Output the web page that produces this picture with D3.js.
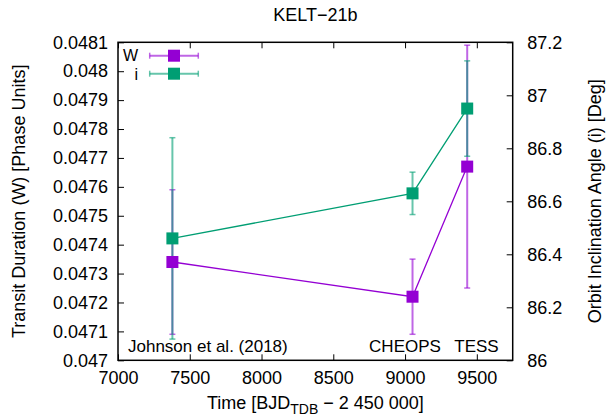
<!DOCTYPE html>
<html><head><meta charset="utf-8">
<script src="https://cdn.jsdelivr.net/npm/d3@7"></script>
<style>body{margin:0;background:#fff}svg{display:block;font-family:"Liberation Sans",Arial,sans-serif}</style>
</head><body>
<svg id="c" width="608" height="416"></svg>
<script>
// ---- data ----
const labels = ["Johnson et al. (2018)", "CHEOPS", "TESS"];
const times = [7379, 9052, 9433];
const wValues = [0.04734, 0.04722, 0.04767];
const wErrors = [0.00025, 0.00013, 0.00042];
const iValues = [86.46, 86.63, 86.95];
const iErrors = [0.38, 0.08, 0.18];
const xTicks = [7000, 7500, 8000, 8500, 9000, 9500];
const wTicks = [0.047, 0.0471, 0.0472, 0.0473, 0.0474, 0.0475, 0.0476, 0.0477, 0.0478, 0.0479, 0.048, 0.0481];
const wTickLabels = ["0.047","0.0471","0.0472","0.0473","0.0474","0.0475","0.0476","0.0477","0.0478","0.0479","0.048","0.0481"];
const iTicks = [86, 86.2, 86.4, 86.6, 86.8, 87, 87.2];
const iTickLabels = ["86","86.2","86.4","86.6","86.8","87","87.2"];
const legendNames = ["W", "i"];

const L = 118, R = 512.7, T = 42.3, B = 360.3;
const FS = 18;
const purple = "#9400d3", green = "#009e73";
const svg = d3.select("#c");

const x = d3.scaleLinear().domain([7000, 9750]).range([L, R]);
const yW = d3.scaleLinear().domain([0.047, 0.0481]).range([B, T]);
const yI = d3.scaleLinear().domain([86, 87.2]).range([B, T]);

// axes with inward ticks
const tk = 6;
const gx = svg.append("g").attr("transform", `translate(0,${B})`)
  .call(d3.axisBottom(x).tickValues(xTicks).tickSizeInner(-tk).tickSizeOuter(0).tickPadding(11).tickFormat(d3.format("d")));
const gxt = svg.append("g").attr("transform", `translate(0,${T})`)
  .call(d3.axisTop(x).tickValues(xTicks).tickSizeInner(-tk).tickSizeOuter(0).tickFormat(""));
const gl = svg.append("g").attr("transform", `translate(${L},0)`)
  .call(d3.axisLeft(yW).tickValues(wTicks).tickSizeInner(-tk).tickSizeOuter(0).tickPadding(10).tickFormat((d,i)=>wTickLabels[i]));
const gr = svg.append("g").attr("transform", `translate(${R},0)`)
  .call(d3.axisRight(yI).tickValues(iTicks).tickSizeInner(-tk).tickSizeOuter(0).tickPadding(14.5).tickFormat((d,i)=>iTickLabels[i]));
[gx,gxt,gl,gr].forEach(g=>{
  g.select(".domain").remove();
  g.selectAll("line").attr("stroke","#000").attr("stroke-width",1);
  g.selectAll("text").attr("font-size",FS).attr("fill","#000").attr("font-family",'"Liberation Sans",Arial,sans-serif');
});

// frame
svg.append("rect").attr("x",L).attr("y",T).attr("width",R-L).attr("height",B-T)
  .attr("fill","none").attr("stroke","#000").attr("stroke-width",1.5);

// title & axis labels
svg.append("text").attr("x",(L+R)/2).attr("y",20.5).attr("text-anchor","middle").attr("font-size",FS).text("KELT\u221221b");
const xl = svg.append("text").attr("x",(L+R)/2).attr("y",409).attr("text-anchor","middle").attr("font-size",FS);
xl.append("tspan").text("Time [BJD");
xl.append("tspan").attr("dy",5).attr("font-size",14).text("TDB");
xl.append("tspan").attr("dy",-5).text(" \u2212 2 450 000]");
svg.append("text").attr("transform",`translate(25,${(T+B)/2}) rotate(-90)`).attr("text-anchor","middle").attr("font-size",FS)
  .text("Transit Duration (W) [Phase Units]");
svg.append("text").attr("transform",`translate(601,${(T+B)/2}) rotate(-90)`).attr("text-anchor","middle").attr("font-size",FS)
  .text("Orbit Inclination Angle (i) [Deg]");

// site labels
const labelPos = [{x:128,a:"start"},{x:405,a:"middle"},{x:476.5,a:"middle"}];
labels.forEach((t,k)=>{
  svg.append("text").attr("x",labelPos[k].x).attr("y",352).attr("text-anchor",labelPos[k].a).attr("font-size",17).text(t);
});

const series = [
  {vals:wValues, errs:wErrors, y:yW, c:purple},
  {vals:iValues, errs:iErrors, y:yI, c:green}
];
const cap = 3;
const plot = svg.append("g");
// lines
series.forEach(s=>{
  plot.append("path").datum(times.map((t,k)=>[x(t), s.y(s.vals[k])]))
    .attr("d", d3.line()).attr("fill","none").attr("stroke",s.c).attr("stroke-width",1.3);
});
// error bars
series.forEach(s=>{
  const g = plot.append("g").attr("stroke",s.c).attr("stroke-opacity",0.6).attr("fill","none");
  times.forEach((t,k)=>{
    const xx = x(t), y1 = s.y(s.vals[k]+s.errs[k]), y2 = s.y(s.vals[k]-s.errs[k]);
    g.append("line").attr("x1",xx).attr("x2",xx).attr("y1",y1).attr("y2",y2).attr("stroke-width",2);
    g.append("line").attr("x1",xx-cap).attr("x2",xx+cap).attr("y1",y1).attr("y2",y1).attr("stroke-width",1.5);
    g.append("line").attr("x1",xx-cap).attr("x2",xx+cap).attr("y1",y2).attr("y2",y2).attr("stroke-width",1.5);
  });
});
// markers
const ms = 12;
series.forEach(s=>{
  times.forEach((t,k)=>{
    plot.append("rect").attr("x",x(t)-ms/2).attr("y",s.y(s.vals[k])-ms/2).attr("width",ms).attr("height",ms).attr("fill",s.c);
  });
});

// legend
const leg = [{c:purple,y:55.7,ty:55.3},{c:green,y:73.7,ty:73.9}];
leg.forEach((l,k)=>{
  svg.append("text").attr("x",138).attr("y",l.ty).attr("dy","0.35em").attr("text-anchor","end").attr("font-size",16).text(legendNames[k]);
  const g = svg.append("g").attr("stroke",l.c).attr("stroke-opacity",0.6);
  g.append("line").attr("x1",149.7).attr("x2",198.3).attr("y1",l.y).attr("y2",l.y).attr("stroke-width",2);
  g.append("line").attr("x1",149.7).attr("x2",149.7).attr("y1",l.y-cap).attr("y2",l.y+cap).attr("stroke-width",1.5);
  g.append("line").attr("x1",198.3).attr("x2",198.3).attr("y1",l.y-cap).attr("y2",l.y+cap).attr("stroke-width",1.5);
  svg.append("rect").attr("x",174-ms/2).attr("y",l.y-ms/2).attr("width",ms).attr("height",ms).attr("fill",l.c);
});
</script>
</body></html>
